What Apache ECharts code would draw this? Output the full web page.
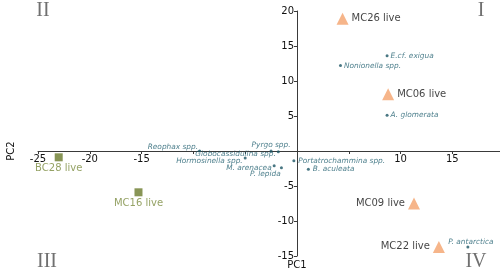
<!DOCTYPE html>
<html><head><meta charset="utf-8">
<script src="https://cdn.jsdelivr.net/npm/echarts@6/dist/echarts.min.js"></script>
<style>html,body{margin:0;padding:0;background:#fff}#c{width:500px;height:276px}</style>
</head><body><div id="c"></div>
<script>
// Samples (triangles)
const triNames = ['MC26 live', 'MC06 live', 'MC09 live', 'MC22 live'];
const triPC1 = [4.4, 8.8, 11.3, 13.7];
const triPC2 = [18.9, 8.1, -7.5, -13.7];
// Samples (squares)
const sqNames = ['BC28 live', 'MC16 live'];
const sqPC1 = [-23.0, -15.3];
const sqPC2 = [-0.9, -5.9];
// Species
const spNames = ['E.cf. exigua', 'Nonionella spp.', 'A. glomerata', 'Reophax spp.', 'Pyrgo spp.',
  'Globocassidulina spp.', 'Hormosinella spp.', 'M. arenacea', 'P. lepida',
  'Portatrochammina spp.', 'B. aculeata', 'P. antarctica'];
const spPC1 = [8.7, 4.2, 8.7, -9.4, -2.5, -1.8, -5.0, -2.2, -1.5, -0.3, 1.1, 16.5];
const spPC2 = [13.6, 12.2, 5.1, 0.0, 0.0, -0.1, -1.0, -2.1, -2.4, -1.4, -2.6, -13.7];
// Axis tick labels
const xTickLabels = [-25, -20, -15, 10, 15];
const xTicks = [-25, -20, -15, -10, -5, 5, 10, 15];
const yTickLabels = [20, 15, 10, 5, -5, -10, -15];
const quadrants = ['I', 'II', 'III', 'IV'];

// label placement (style)
const triPos = {'MC26 live': 'right', 'MC06 live': 'right', 'MC09 live': 'left', 'MC22 live': 'left'};
const spPos = {
  'E.cf. exigua': {position: 'right'},
  'Nonionella spp.': {position: 'right'},
  'A. glomerata': {position: 'right'},
  'Reophax spp.': {position: 'left', offset: [2, -4]},
  'Pyrgo spp.': {position: 'top', distance: 1},
  'Globocassidulina spp.': {position: 'left', distance: 1, offset: [0, 2]},
  'Hormosinella spp.': {position: 'left', distance: 1, offset: [0, 3]},
  'M. arenacea': {position: 'left', distance: 1, offset: [0, 2]},
  'P. lepida': {position: 'bottom', distance: 1, offset: [-16, 0]},
  'Portatrochammina spp.': {position: 'right', distance: 3},
  'B. aculeata': {position: 'right', distance: 3},
  'P. antarctica': {position: 'top', distance: 0, offset: [3, 0]}
};

const FONT = 'DejaVu Sans';
const chart = echarts.init(document.getElementById('c'), null, {renderer: 'canvas'});
chart.setOption({
  animation: false,
  grid: {left: 38, right: 0, top: 11, bottom: 20, containLabel: false, outerBoundsMode: 'none'},
  xAxis: {
    type: 'value', min: -25, max: 19.6, interval: 5, position: 'bottom', offset: -105,
    splitLine: {show: false},
    axisLine: {onZero: false, lineStyle: {color: '#3a3a3a', width: 1}},
    axisTick: {length: 3, lineStyle: {color: '#3a3a3a'}, customValues: xTicks},
    axisLabel: {customValues: xTickLabels, fontFamily: FONT, fontSize: 10, color: '#111', margin: 3}
  },
  yAxis: {
    type: 'value', min: -15, max: 20, interval: 5, position: 'left', offset: -259,
    splitLine: {show: false},
    axisLine: {onZero: false, lineStyle: {color: '#3a3a3a', width: 1}},
    axisTick: {length: 3, lineStyle: {color: '#3a3a3a'}, customValues: yTickLabels},
    axisLabel: {customValues: yTickLabels, fontFamily: FONT, fontSize: 10, color: '#111', margin: 3},
    name: 'PC1', nameLocation: 'start', nameGap: 3,
    nameTextStyle: {fontFamily: FONT, fontSize: 10, color: '#111', verticalAlign: 'top'}
  },
  graphic: [
    {type: 'text', x: 11, y: 151, rotation: Math.PI / 2,
      style: {text: 'PC2', font: '10px "DejaVu Sans"', fill: '#111', textAlign: 'center', textVerticalAlign: 'middle'}},
    {type: 'text', x: 481, y: 11, style: {text: quadrants[0], font: '20px "Liberation Serif"', fill: '#707070', textAlign: 'center', textVerticalAlign: 'middle'}},
    {type: 'text', x: 43, y: 11, style: {text: quadrants[1], font: '20px "Liberation Serif"', fill: '#707070', textAlign: 'center', textVerticalAlign: 'middle'}},
    {type: 'text', x: 47, y: 262, style: {text: quadrants[2], font: '20px "Liberation Serif"', fill: '#707070', textAlign: 'center', textVerticalAlign: 'middle'}},
    {type: 'text', x: 476, y: 262, style: {text: quadrants[3], font: '20px "Liberation Serif"', fill: '#707070', textAlign: 'center', textVerticalAlign: 'middle'}}
  ],
  series: [
    {
      type: 'scatter', symbol: 'circle', symbolSize: 3,
      itemStyle: {color: '#1b5564'},
      data: spNames.map((n, i) => ({
        name: n, value: [spPC1[i], spPC2[i]],
        label: Object.assign({show: true, distance: 2}, spPos[n])
      })),
      label: {show: true, formatter: '{b}', fontFamily: FONT, fontStyle: 'italic', fontSize: 7.4, color: '#215f6f'}
    },
    {
      type: 'scatter', symbol: 'triangle', symbolSize: 12,
      itemStyle: {color: '#f4a36d'},
      data: triNames.map((n, i) => ({name: n, value: [triPC1[i], triPC2[i]], label: {position: triPos[n]}})),
      label: {show: true, formatter: '{b}', distance: 3, fontFamily: FONT, fontSize: 10, color: '#111'}
    },
    {
      type: 'scatter', symbol: 'rect', symbolSize: 8,
      itemStyle: {color: '#6a7a2c'},
      data: sqNames.map((n, i) => ({name: n, value: [sqPC1[i], sqPC2[i]]})),
      label: {show: true, position: 'bottom', formatter: '{b}', distance: 2, fontFamily: FONT, fontSize: 10, color: '#7b8b3f'}
    }
  ]
});
</script></body></html>
